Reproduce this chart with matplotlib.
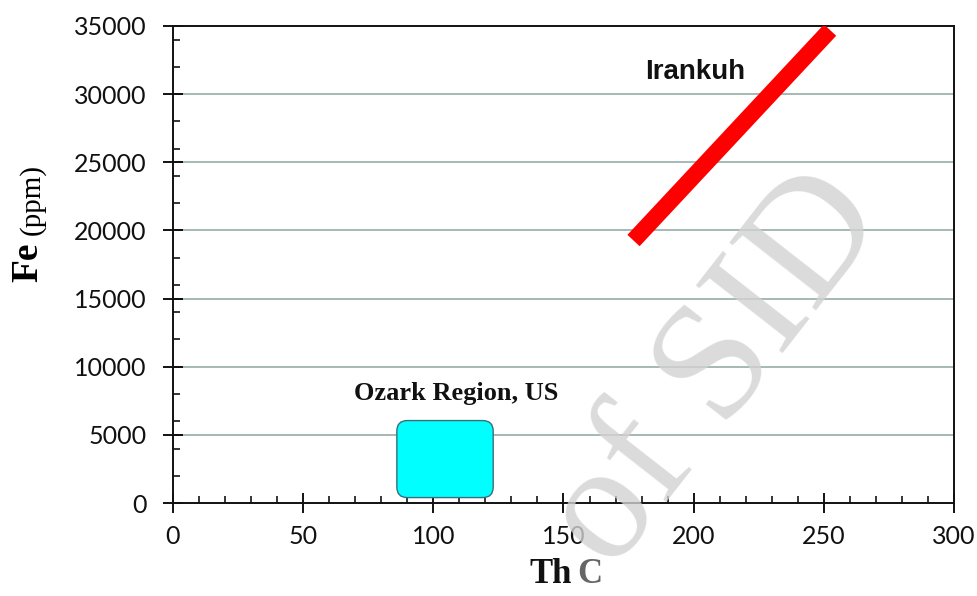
import matplotlib
matplotlib.use("Agg")
import matplotlib.pyplot as plt
from matplotlib.patches import FancyBboxPatch
from matplotlib.ticker import MultipleLocator

# Data
irankuh_th = [176.9, 252.4]
irankuh_fe = [19260, 34700]
ozark_th = [86, 123]
ozark_fe = [400, 6050]
xticks = [0, 50, 100, 150, 200, 250, 300]
yticks = [0, 5000, 10000, 15000, 20000, 25000, 30000, 35000]

fig = plt.figure(figsize=(9.77, 5.96), dpi=100)
ax = fig.add_axes([0.177, 0.156, 0.7995, 0.8004])
ax.set_xlim(0, 300)
ax.set_ylim(0, 35000)

# grid
for y in yticks[1:-1]:
    ax.axhline(y, color="#9fb3ae", lw=1.3, zorder=1)

# Irankuh line
ax.plot(irankuh_th, irankuh_fe, color="#ff0000", lw=12, solid_capstyle="butt", zorder=3)
ax.text(200.5, 31600, "Irankuh", fontsize=20, fontweight="bold", family="Liberation Sans",
        ha="center", va="center", color="#111111")

# Ozark box
x0, x1 = ozark_th
y0, y1 = ozark_fe
xpx = 781 / 300.0
ypx = 477 / 35000.0
asp = xpx / ypx
box = FancyBboxPatch((x0 + 4, y0 + 4 * asp), (x1 - x0) - 8, (y1 - y0) - 8 * asp,
                     boxstyle="round,pad=4", mutation_aspect=asp,
                     facecolor="#00ffff", edgecolor="#3a6e78", lw=1.0, zorder=3)
ax.add_patch(box)
ax.text(108.7, 8000, "Ozark Region, US", fontsize=19, fontweight="bold",
        family="Liberation Serif", ha="center", va="center", color="#111111")

# ticks
ax.set_xticks(xticks)
ax.set_yticks(yticks)
ax.xaxis.set_minor_locator(MultipleLocator(10))
ax.yaxis.set_minor_locator(MultipleLocator(2000))
ax.tick_params(axis="both", which="major", direction="inout", length=14, width=1.3,
               labelsize=18)
ax.tick_params(axis="y", which="major", pad=12)
ax.tick_params(axis="x", which="major", pad=9)
ax.tick_params(axis="both", which="minor", direction="in", length=5, width=1.1)
for lab in ax.get_xticklabels() + ax.get_yticklabels():
    lab.set_family("Lato")
    lab.set_color("#111111")
for s in ax.spines.values():
    s.set_linewidth(1.4)
    s.set_color("#111111")

# axis labels
fig.text(0.029, 0.560, "Fe", fontsize=27, fontweight="bold", family="Liberation Serif",
         rotation=90, ha="center", va="center")
fig.text(0.033, 0.666, "(ppm)", fontsize=21, family="Liberation Serif",
         rotation=90, ha="center", va="center")
fig.text(0.5855, 0.022, "Th", fontsize=25, fontweight="bold", family="Liberation Serif",
         ha="right", va="baseline", color="#111111")
fig.text(0.5905, 0.022, "C", fontsize=25, fontweight="bold", family="Liberation Serif",
         ha="left", va="baseline", color="#666666")

# watermark
fig.text(0.735, 0.378, "of SID", fontsize=120, family="Liberation Serif", color="#d2d2d2",
         rotation=52, ha="center", va="center", alpha=0.8, zorder=5)

fig.savefig("out.png", dpi=100)
